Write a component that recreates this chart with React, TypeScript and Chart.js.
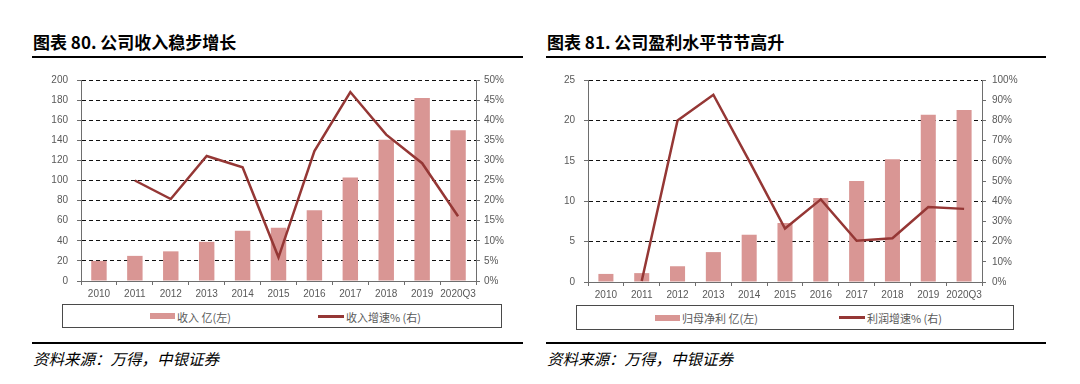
import React, { useEffect, useRef } from "react";
import { Chart, registerables } from "chart.js";
Chart.register(...registerables);

// ---------- data ----------
const categories = ["2010", "2011", "2012", "2013", "2014", "2015", "2016", "2017", "2018", "2019", "2020Q3"];

const revenue = [20, 25, 29.5, 39, 50, 53, 70.5, 103, 140.5, 182, 150];
const revenueGrowth = [null, 25, 20.4, 31.1, 28.3, 5.9, 32.3, 47, 36.4, 29.3, 16.1];

const netProfit = [1.0, 1.1, 1.95, 3.7, 5.85, 7.3, 10.4, 12.5, 15.2, 20.7, 21.3];
const profitGrowth = [null, 0.5, 80, 92.7, 60, 26.5, 40.9, 20.4, 21.7, 37.1, 36.2];

const leftTitle = "图表 80. 公司收入稳步增长";
const rightTitle = "图表 81. 公司盈利水平节节高升";
const revenueLabel = "收入 亿(左)";
const revenueGrowthLabel = "收入增速% (右)";
const profitLabel = "归母净利 亿(左)";
const profitGrowthLabel = "利润增速% (右)";
const sourceText = "资料来源：万得，中银证券";

// ---------- styles ----------
const BAR_COLOR = "#D99694";
const LINE_COLOR = "#953735";
const AXIS_COLOR = "#6e6e6e";
const GRID_COLOR = "#111111";
const TEXT_COLOR = "#595959";
const CJK = '"Noto Sans CJK SC", "Noto Sans", sans-serif';
const TICK_FONT = { family: '"Liberation Sans", Arial, sans-serif', size: 10 };

type ChartProps = {
  left: number;
  top: number;
  width: number;
  height: number;
  bars: number[];
  line: (number | null)[];
  barLabel: string;
  lineLabel: string;
  yMax: number;
  yStep: number;
  y1Max: number;
  y1Step: number;
  yWidth: number;
  y1Width: number;
  barPct: number;
  yPad: number;
  y1Pad: number;
};

function ComboChart(p: ChartProps) {
  const ref = useRef<HTMLCanvasElement>(null);
  useEffect(() => {
    const chart = new Chart(ref.current!, {
      type: "bar",
      data: {
        labels: categories,
        datasets: [
          {
            type: "line",
            label: p.lineLabel,
            data: p.line,
            yAxisID: "y1",
            borderColor: LINE_COLOR,
            backgroundColor: LINE_COLOR,
            borderWidth: 2.5,
            pointRadius: 0,
            tension: 0,
            order: 0,
          } as any,
          {
            type: "bar",
            label: p.barLabel,
            data: p.bars,
            yAxisID: "y",
            backgroundColor: BAR_COLOR,
            barPercentage: p.barPct,
            categoryPercentage: 1,
            order: 1,
          },
        ],
      },
      options: {
        animation: false,
        responsive: false,
        maintainAspectRatio: false,
        layout: { padding: { top: 12, left: 0, right: 0, bottom: 0 } },
        plugins: { legend: { display: false }, tooltip: { enabled: false } },
        scales: {
          x: {
            grid: {
              offset: true,
              drawOnChartArea: false,
              drawTicks: true,
              tickLength: 4,
              tickColor: AXIS_COLOR,
              tickWidth: 1,
            },
            border: { color: AXIS_COLOR, width: 1 },
            ticks: { font: TICK_FONT, color: TEXT_COLOR, padding: 3, maxRotation: 0, autoSkip: false },
            afterFit: (s: any) => {
              s.height = 21;
            },
          },
          y: {
            position: "left",
            min: 0,
            max: p.yMax,
            ticks: { stepSize: p.yStep, font: TICK_FONT, color: TEXT_COLOR, padding: p.yPad },
            grid: {
              color: (ctx: any) => (ctx.tick && ctx.tick.value === 0 ? "rgba(0,0,0,0)" : GRID_COLOR),
              lineWidth: 1,
              tickLength: 4,
              tickColor: AXIS_COLOR,
              tickWidth: 1,
            },
            border: { color: AXIS_COLOR, width: 1, dash: [4, 3] },
            afterFit: (s: any) => {
              s.width = p.yWidth;
            },
          },
          y1: {
            position: "right",
            min: 0,
            max: p.y1Max,
            ticks: {
              stepSize: p.y1Step,
              font: TICK_FONT,
              color: TEXT_COLOR,
              padding: p.y1Pad,
              callback: (v: any) => v + "%",
            },
            grid: { drawOnChartArea: false, tickLength: 4, tickColor: AXIS_COLOR, tickWidth: 1 },
            border: { color: AXIS_COLOR, width: 1 },
            afterFit: (s: any) => {
              s.width = p.y1Width;
            },
          },
        },
      } as any,
    });
    return () => chart.destroy();
  }, []);
  return (
    <canvas
      ref={ref}
      width={p.width}
      height={p.height}
      style={{ position: "absolute", left: p.left, top: p.top, width: p.width, height: p.height }}
    />
  );
}

type LegendProps = {
  left: number;
  top: number;
  width: number;
  height: number;
  barLabel: string;
  lineLabel: string;
  barX: number;
  lineX: number;
};

function Legend(l: LegendProps) {
  const txt: React.CSSProperties = {
    position: "absolute",
    top: 0,
    height: l.height,
    lineHeight: l.height + "px",
    fontFamily: CJK,
    fontSize: 11,
    color: TEXT_COLOR,
    whiteSpace: "nowrap",
  };
  const mid = l.height / 2;
  return (
    <div
      style={{
        position: "absolute",
        left: l.left,
        top: l.top,
        width: l.width,
        height: l.height,
        border: "1.5px solid #4a4a4a",
        boxSizing: "border-box",
      }}
    >
      <div style={{ position: "absolute", left: l.barX, top: mid - 4, width: 25, height: 6, background: BAR_COLOR }} />
      <div style={{ ...txt, left: l.barX + 27 }}>{l.barLabel}</div>
      <div style={{ position: "absolute", left: l.lineX, top: mid - 2.5, width: 26, height: 3, background: LINE_COLOR }} />
      <div style={{ ...txt, left: l.lineX + 28 }}>{l.lineLabel}</div>
    </div>
  );
}

type PanelProps = {
  x: number;
  w: number;
  title: string;
};

function Frame({ x, w, title }: PanelProps) {
  return (
    <>
      <div
        style={{
          position: "absolute",
          left: x + 1,
          top: 30,
          height: 24,
          lineHeight: "24px",
          fontFamily: CJK,
          fontWeight: 700,
          fontSize: 17,
          color: "#000",
          whiteSpace: "nowrap",
        }}
      >
        {title}
      </div>
      <div style={{ position: "absolute", left: x, top: 56, width: w, height: 2, background: "#000" }} />
      <div style={{ position: "absolute", left: x, top: 342, width: w, height: 2, background: "#000" }} />
      <div
        style={{
          position: "absolute",
          left: x + 1,
          top: 347,
          height: 22,
          lineHeight: "22px",
          fontFamily: CJK,
          fontStyle: "italic",
          fontSize: 15.5,
          color: "#000",
          whiteSpace: "nowrap",
        }}
      >
        {sourceText}
      </div>
    </>
  );
}

export default function App() {
  return (
    <div
      style={{
        position: "fixed",
        left: 0,
        top: 0,
        width: 1080,
        height: 384,
        background: "#fff",
        overflow: "hidden",
      }}
    >
      {/* left panel */}
      <Frame x={32} w={491} title={leftTitle} />
      <ComboChart
        left={32}
        top={65}
        width={491}
        height={237}
        bars={revenue}
        line={revenueGrowth}
        barLabel={revenueLabel}
        lineLabel={revenueGrowthLabel}
        yMax={200}
        yStep={20}
        y1Max={50}
        y1Step={5}
        yWidth={49}
        y1Width={47}
        barPct={0.43}
        yPad={9}
        y1Pad={4}
      />
      <Legend
        left={62}
        top={304}
        width={440}
        height={24}
        barLabel={revenueLabel}
        lineLabel={revenueGrowthLabel}
        barX={87}
        lineX={255}
      />

      {/* right panel */}
      <Frame x={546} w={500} title={rightTitle} />
      <ComboChart
        left={546}
        top={65}
        width={500}
        height={238}
        bars={netProfit}
        line={profitGrowth}
        barLabel={profitLabel}
        lineLabel={profitGrowthLabel}
        yMax={25}
        yStep={5}
        y1Max={100}
        y1Step={10}
        yWidth={42}
        y1Width={64}
        barPct={0.42}
        yPad={9}
        y1Pad={6}
      />
      <Legend
        left={576}
        top={305}
        width={438}
        height={25}
        barLabel={profitLabel}
        lineLabel={profitGrowthLabel}
        barX={78}
        lineX={262}
      />
    </div>
  );
}
